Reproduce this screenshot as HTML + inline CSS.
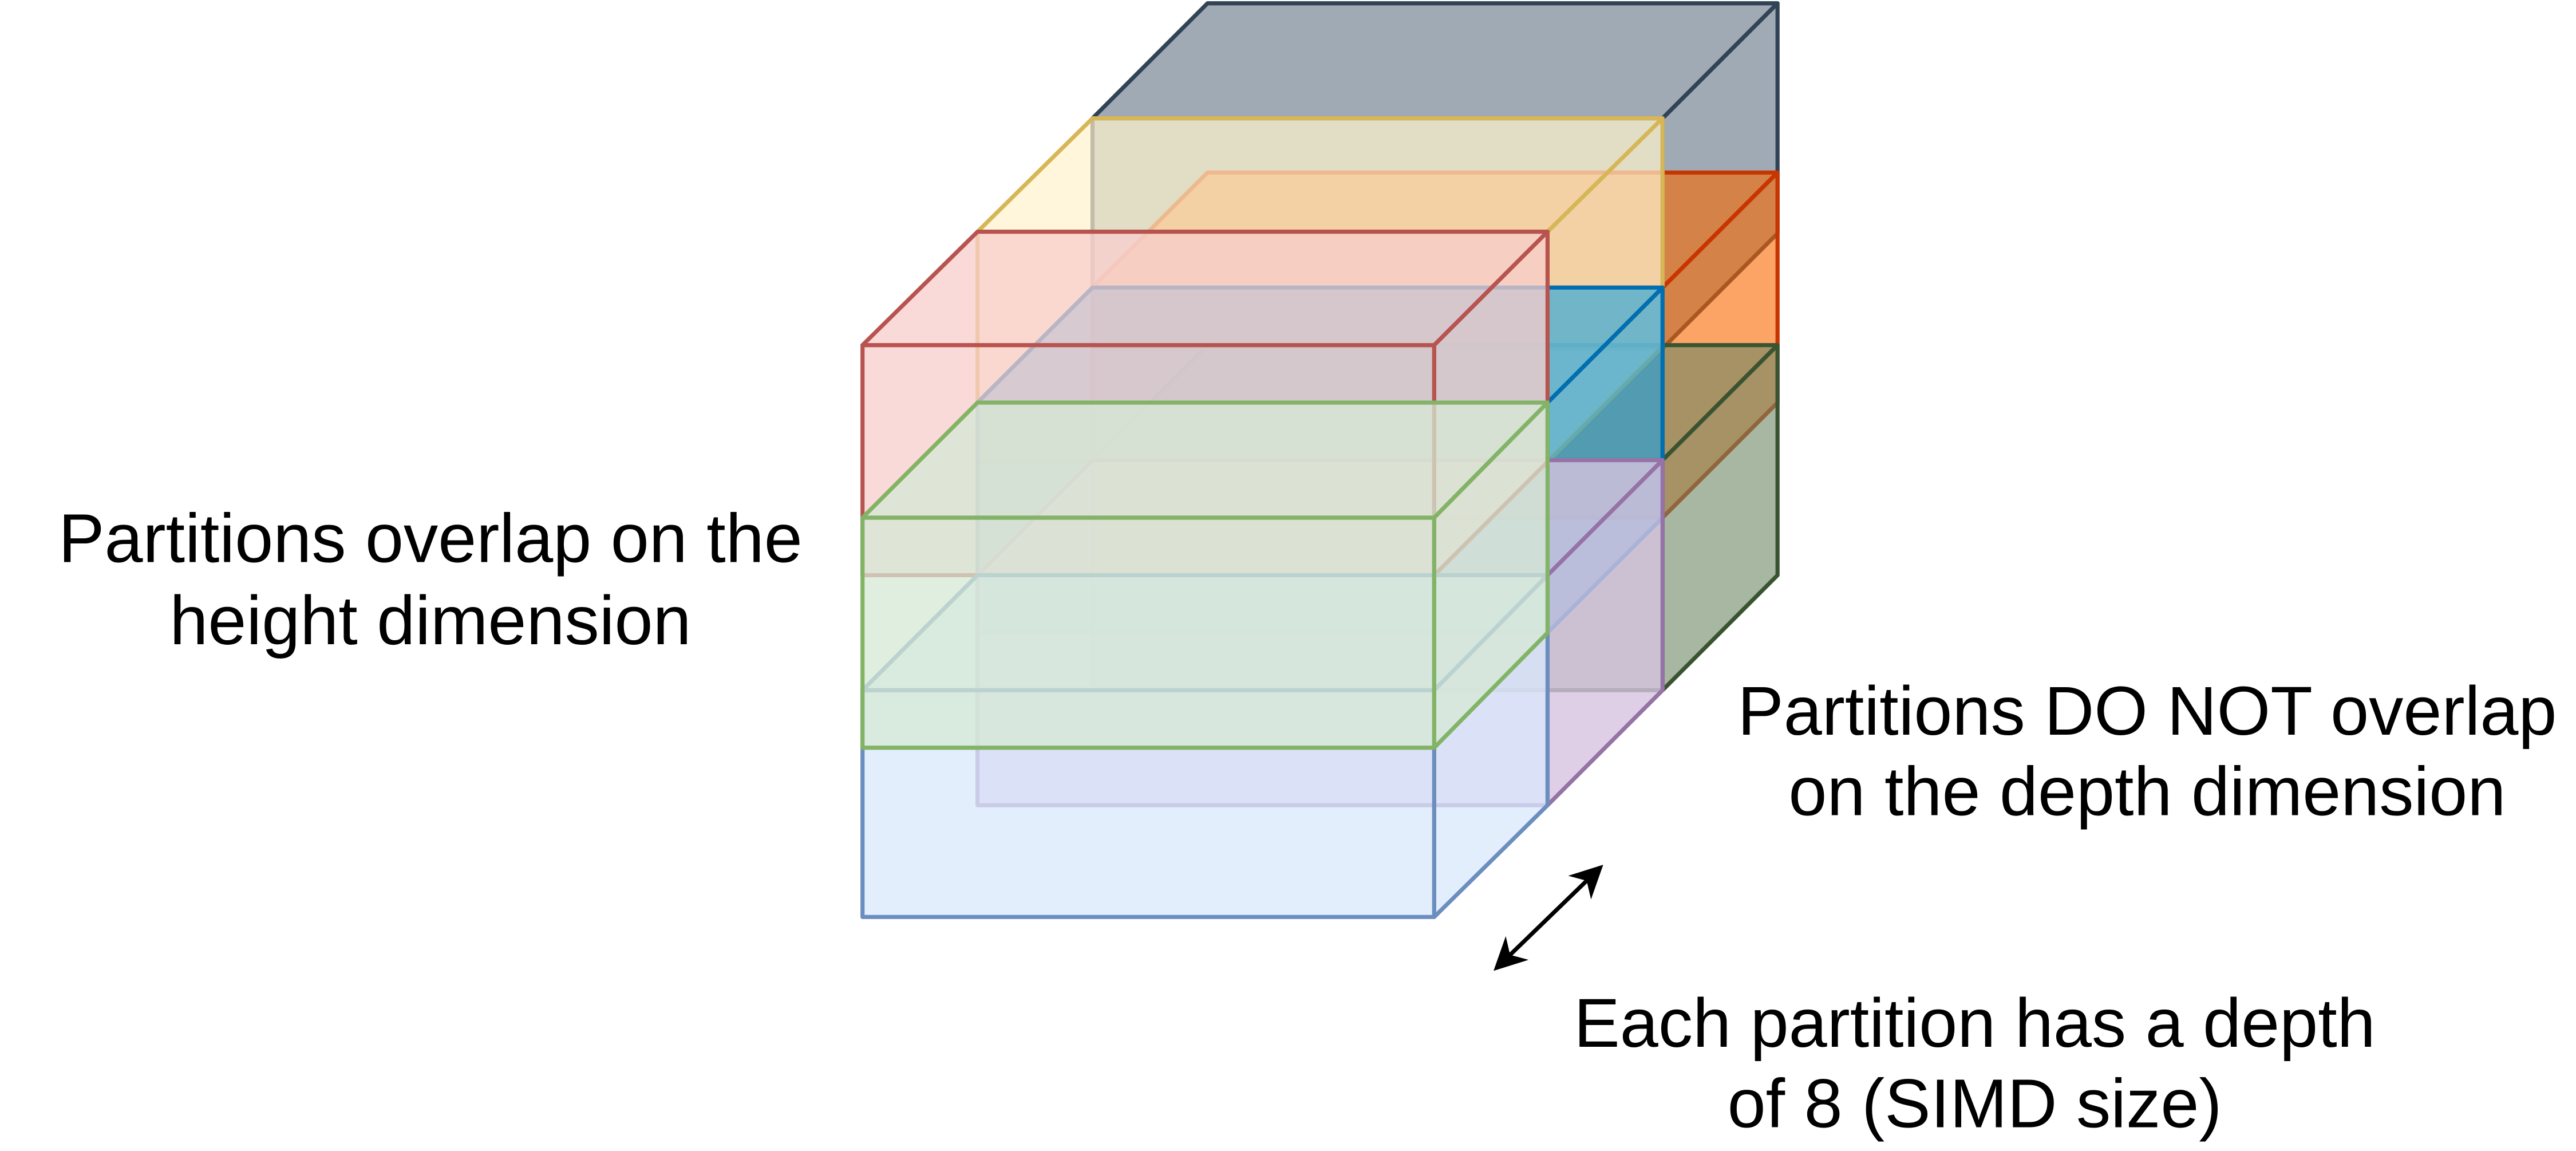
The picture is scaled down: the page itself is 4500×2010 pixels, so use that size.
<!DOCTYPE html>
<html><head><meta charset="utf-8"><style>
html,body{margin:0;padding:0;background:#fff;}
svg{display:block;}
text{font-family:"Liberation Sans",sans-serif;font-size:42px;fill:#000;}
</style></head><body>
<svg width="4500" height="2010" viewBox="0 0 1568 700.4" xmlns="http://www.w3.org/2000/svg">
<defs>
<marker id="ah" viewBox="0 0 10 10" refX="8" refY="5" markerWidth="8" markerHeight="8" orient="auto-start-reverse"><path d="M0,0 L10,5 L0,10 L3,5 z" fill="#000"/></marker>
</defs>
<g stroke-width="2.5" stroke-linejoin="round">
<g fill="#647687" stroke="#314354" fill-opacity="0.62">
<polygon points="665,72 1012,72 1012,212 665,212"/>
<polygon points="665,72 735,2 1082,2 1012,72"/>
<polygon points="1012,72 1082,2 1082,142 1012,212"/>
</g>
<g fill="#fa6800" stroke="#C73500" fill-opacity="0.6">
<polygon points="665,175 1012,175 1012,315 665,315"/>
<polygon points="665,175 735,105 1082,105 1012,175"/>
<polygon points="1012,175 1082,105 1082,245 1012,315"/>
</g>
<g fill="#6d8764" stroke="#3A5431" fill-opacity="0.6">
<polygon points="665,280 1012,280 1012,420 665,420"/>
<polygon points="665,280 735,210 1082,210 1012,280"/>
<polygon points="1012,280 1082,210 1082,350 1012,420"/>
</g>
<g fill="#fff2cc" stroke="#d6b656" fill-opacity="0.7">
<polygon points="595,141 942,141 942,281 595,281"/>
<polygon points="595,141 665,72 1012,72 942,141"/>
<polygon points="942,141 1012,72 1012,211 942,281"/>
</g>
<g fill="#1ba1e2" stroke="#006EAF" fill-opacity="0.6">
<polygon points="595,245 942,245 942,385 595,385"/>
<polygon points="595,245 665,175 1012,175 942,245"/>
<polygon points="942,245 1012,175 1012,315 942,385"/>
</g>
<g fill="#d6c3e0" stroke="#9673a6" fill-opacity="0.8">
<polygon points="595,350 942,350 942,490 595,490"/>
<polygon points="595,350 665,280 1012,280 942,350"/>
<polygon points="942,350 1012,280 1012,420 942,490"/>
</g>
<g fill="#f8cecc" stroke="#b85450" fill-opacity="0.75">
<polygon points="525,210 873,210 873,350 525,350"/>
<polygon points="525,210 595,141 942,141 873,210"/>
<polygon points="873,210 942,141 942,281 873,350"/>
</g>
<g fill="#dae8fc" stroke="#6c8ebf" fill-opacity="0.75">
<polygon points="525,420 873,420 873,558 525,558"/>
<polygon points="525,420 595,350 942,350 873,420"/>
<polygon points="873,420 942,350 942,490 873,558"/>
</g>
<g fill="#d5e8d4" stroke="#82b366" fill-opacity="0.75">
<polygon points="525,315 873,315 873,455 525,455"/>
<polygon points="525,315 595,245 942,245 873,315"/>
<polygon points="873,315 942,245 942,385 873,455"/>
</g>
</g>
<line x1="912" y1="588" x2="973" y2="529" stroke="#000" stroke-width="2.5" marker-start="url(#ah)" marker-end="url(#ah)"/>
<text x="262" y="342" text-anchor="middle">Partitions overlap on the</text>
<text x="262" y="392" text-anchor="middle">height dimension</text>
<text x="1307" y="447" text-anchor="middle">Partitions DO NOT overlap</text>
<text x="1307" y="496" text-anchor="middle">on the depth dimension</text>
<text x="1202" y="637" text-anchor="middle">Each partition has a depth</text>
<text x="1202" y="686" text-anchor="middle">of 8 (SIMD size)</text>
</svg>
</body></html>
